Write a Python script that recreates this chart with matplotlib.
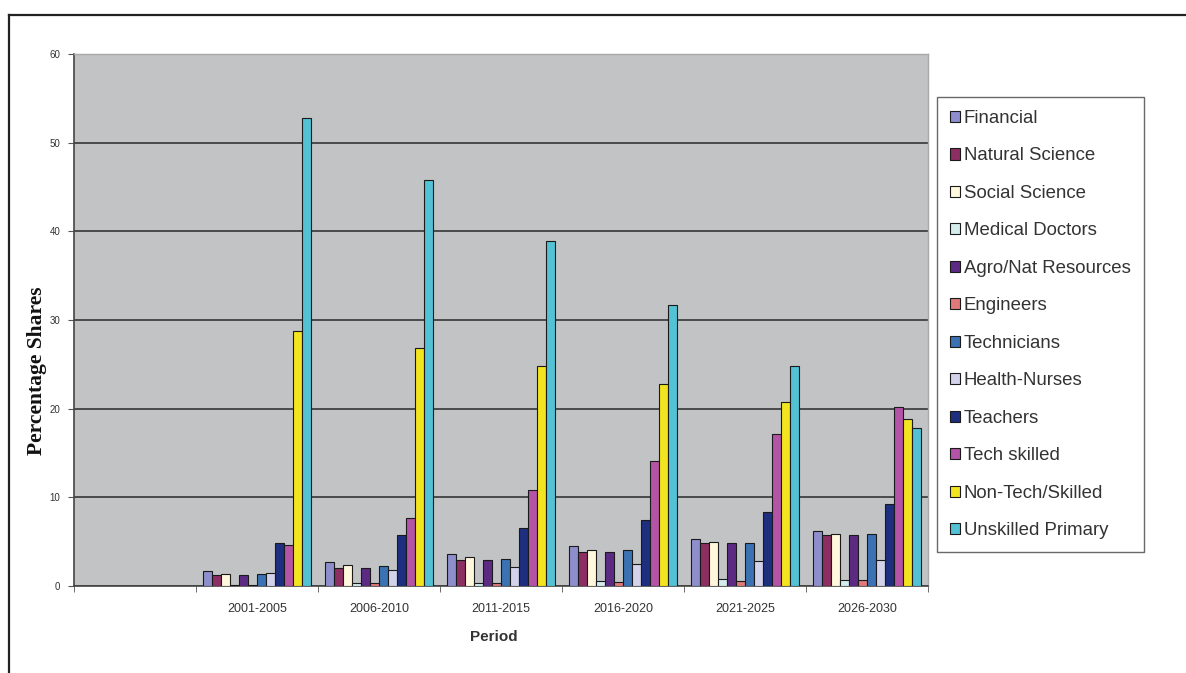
import matplotlib
matplotlib.use("Agg")
import matplotlib.pyplot as plt
import numpy as np

periods = ["2001-2005", "2006-2010", "2011-2015", "2016-2020", "2021-2025", "2026-2030"]
series_names = ["Financial", "Natural Science", "Social Science", "Medical Doctors",
                "Agro/Nat Resources", "Engineers", "Technicians", "Health-Nurses",
                "Teachers", "Tech skilled", "Non-Tech/Skilled", "Unskilled Primary"]

financial = [1.7, 2.7, 3.6, 4.5, 5.3, 6.2]
natural_science = [1.2, 2.0, 2.9, 3.8, 4.9, 5.7]
social_science = [1.4, 2.4, 3.3, 4.1, 5.0, 5.9]
medical_doctors = [0.15, 0.3, 0.35, 0.55, 0.75, 0.65]
agro_nat = [1.2, 2.0, 2.9, 3.8, 4.9, 5.7]
engineers = [0.15, 0.3, 0.35, 0.4, 0.55, 0.65]
technicians = [1.4, 2.3, 3.1, 4.1, 4.9, 5.9]
health_nurses = [1.5, 1.8, 2.1, 2.5, 2.8, 2.9]
teachers = [4.8, 5.8, 6.5, 7.5, 8.4, 9.3]
tech_skilled = [4.6, 7.7, 10.8, 14.1, 17.1, 20.2]
non_tech = [28.8, 26.8, 24.8, 22.8, 20.8, 18.8]
unskilled = [52.8, 45.8, 38.9, 31.7, 24.8, 17.8]

yticks = [0, 10, 20, 30, 40, 50, 60]

data = [financial, natural_science, social_science, medical_doctors, agro_nat, engineers,
        technicians, health_nurses, teachers, tech_skilled, non_tech, unskilled]
colors = ["#8e8ecc", "#8c2e62", "#fff8dc", "#d4ecec", "#5c2a82", "#e07a7a",
          "#3a72b4", "#d2d2ea", "#1f2f80", "#b454a6", "#f2e41e", "#52c2d4"]

fig = plt.figure(figsize=(11.86, 6.73), dpi=100)
fig.patch.set_facecolor("white")

# outer frame (left and top edges visible)
fig.add_artist(plt.Line2D([8.5/1186, 8.5/1186], [0, 1 - 15/673], transform=fig.transFigure,
                          color="#222222", lw=1.6))
fig.add_artist(plt.Line2D([8.5/1186, 1], [1 - 15/673, 1 - 15/673], transform=fig.transFigure,
                          color="#222222", lw=1.6))

ax = fig.add_axes([74/1186, 1 - 586/673, (928 - 74)/1186, (586 - 54)/673])
ax.set_facecolor("#c2c3c5")

n = len(series_names)
w = 1 / 13.5
pos = np.arange(len(periods)) + 1
for i, (name, vals, c) in enumerate(zip(series_names, data, colors)):
    ax.bar(pos + (i - (n - 1) / 2) * w, vals, width=w, color=c, edgecolor="#1a1a1a",
           linewidth=0.8, label=name, zorder=3)

ax.set_xlim(-0.5, 6.5)
ax.set_ylim(0, 60)
ax.set_yticks(yticks)
ax.set_yticklabels([str(v) for v in yticks], fontsize=7, color="#333333", family="Liberation Sans")
ax.yaxis.grid(True, color="#2a2a2a", lw=1.1, zorder=1)
ax.set_axisbelow(True)
ax.set_xticks(pos)
ax.set_xticklabels(periods, fontsize=9, color="#333333", family="Liberation Sans")
ax.set_xticks(np.arange(-0.5, 7, 1), minor=True)
ax.tick_params(axis="x", which="major", length=0, pad=12)
ax.tick_params(axis="x", which="minor", length=4, color="#555555", direction="out")
ax.tick_params(axis="y", length=4, color="#555555", direction="out", pad=6)
for s in ["top", "right"]:
    ax.spines[s].set_color("#a8a8a8")
    ax.spines[s].set_linewidth(1.0)
for s in ["left", "bottom"]:
    ax.spines[s].set_color("#444444")
    ax.spines[s].set_linewidth(1.2)

fig.text(494/1186, 1 - 637/673, "Period", ha="center", va="center", fontsize=11,
         fontweight="bold", color="#333333", family="Liberation Sans")
fig.text(37/1186, 1 - 371/673, "Percentage Shares", rotation=90, ha="center", va="center",
         fontsize=15.5, fontweight="bold", family="Liberation Serif", color="#111111")

leg = fig.legend(loc="upper left", bbox_to_anchor=(937/1186, 1 - 97/673),
                 frameon=True, fancybox=False, edgecolor="#444444",
                 handlelength=0.55, handleheight=0.55, handletextpad=0.2,
                 labelspacing=1.1, borderpad=0.7, borderaxespad=0,
                 prop={"family": "Liberation Sans", "size": 13.4})
leg.get_frame().set_linewidth(1.0)
for t in leg.get_texts():
    t.set_color("#333333")

fig.savefig("out.png", dpi=100)
